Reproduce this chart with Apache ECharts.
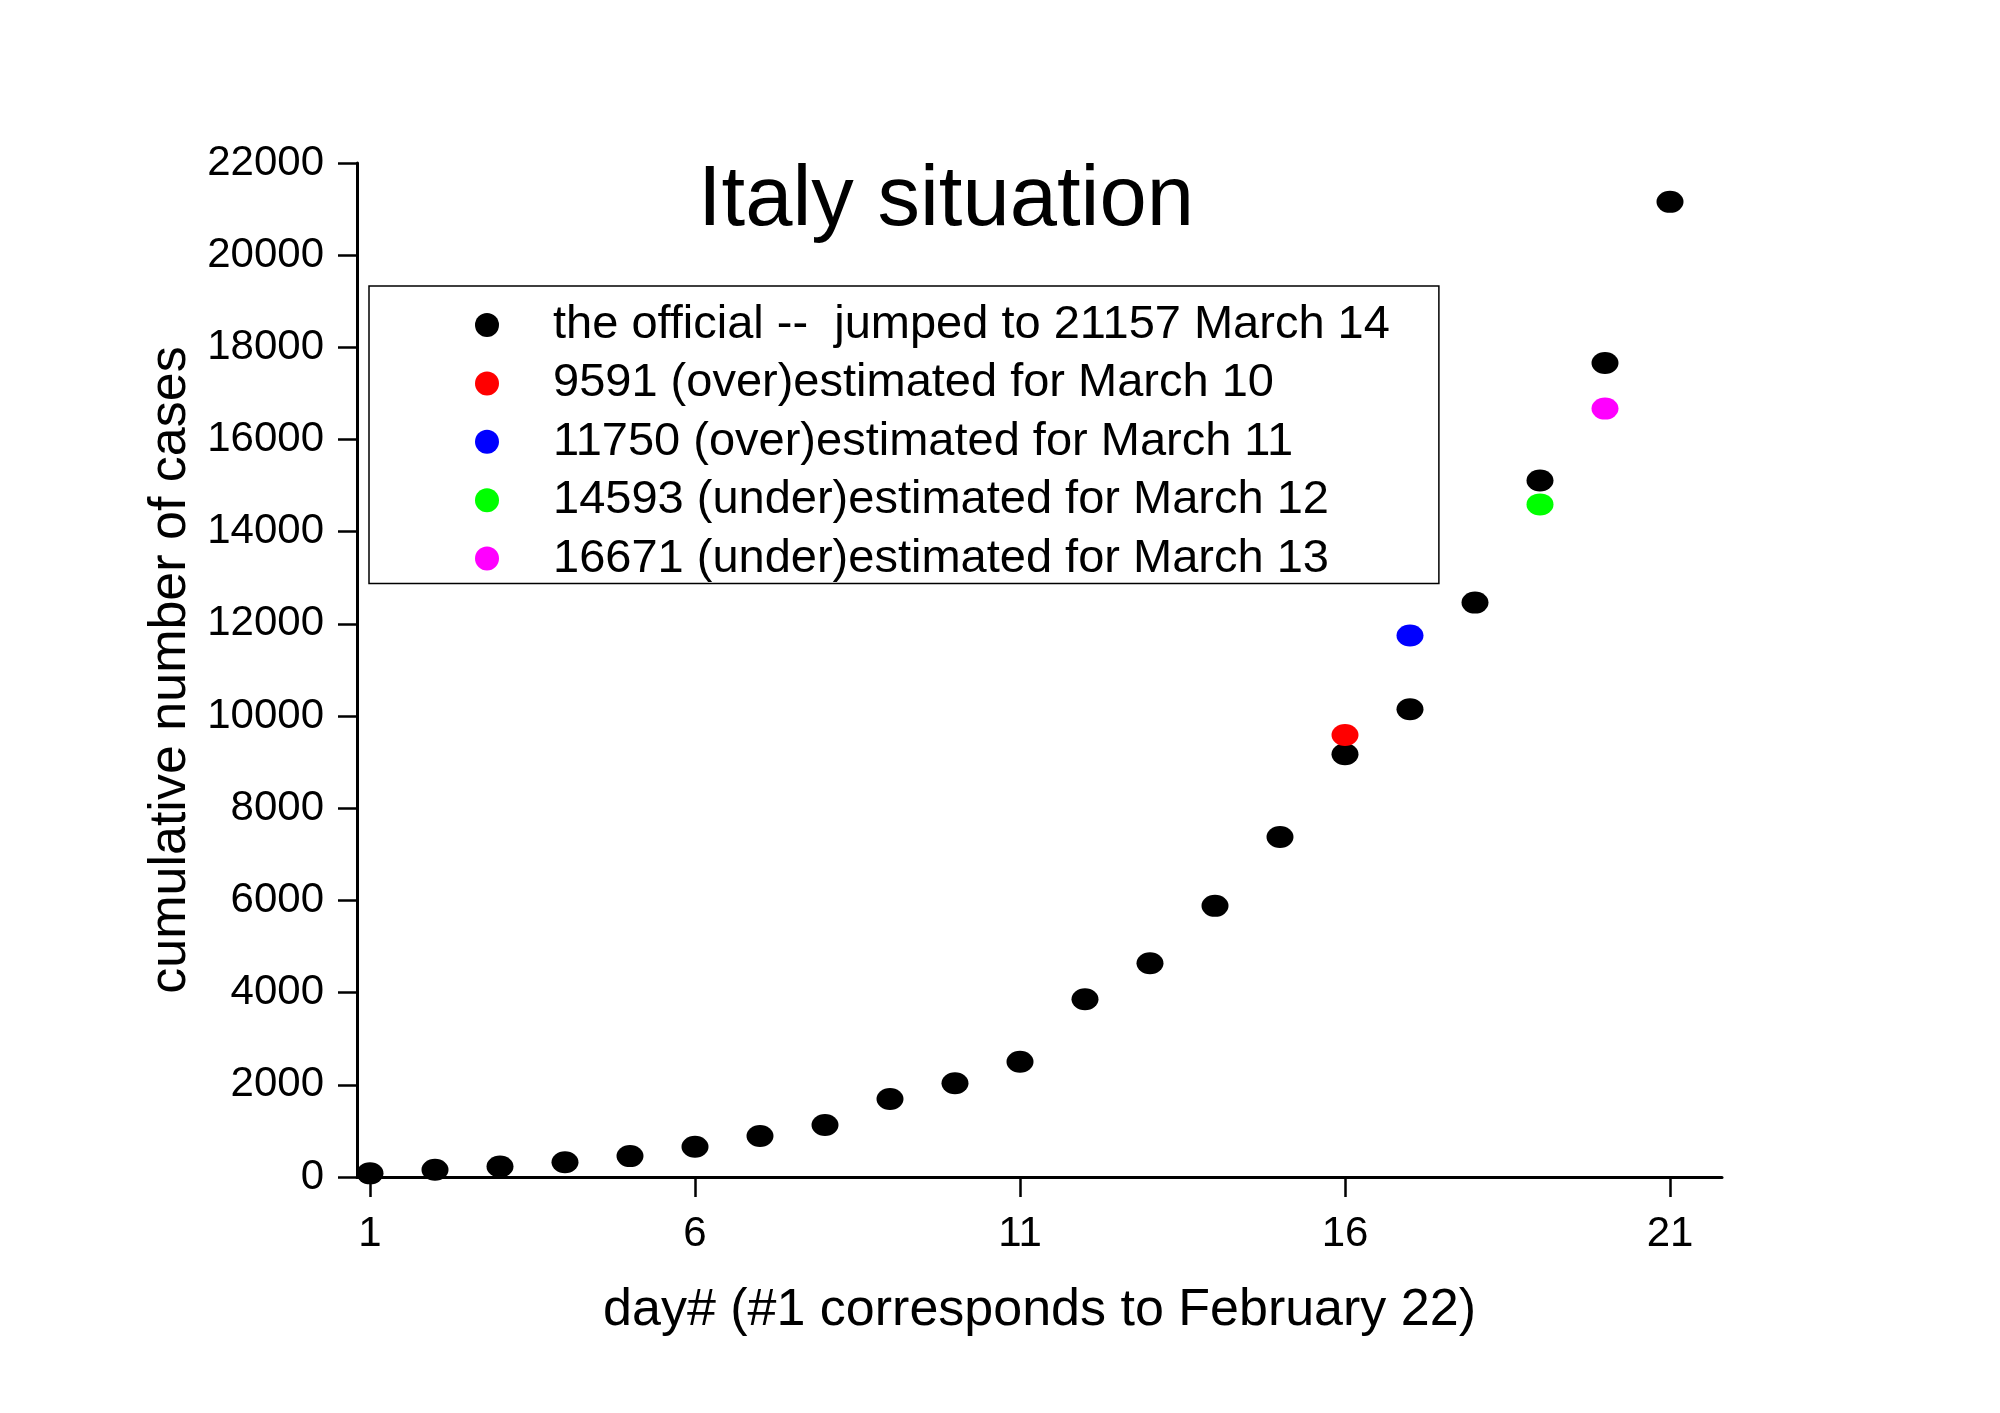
<!DOCTYPE html>
<html>
<head>
<meta charset="utf-8">
<script src="https://cdn.jsdelivr.net/npm/echarts@6/dist/echarts.min.js"></script>
<style>
html,body{margin:0;padding:0;background:#fff;}
#chart{width:2000px;height:1413px;}
</style>
</head>
<body>
<div id="chart"></div>
<script>
// ---- data ----
var days = [1,2,3,4,5,6,7,8,9,10,11,12,13,14,15,16,17,18,19,20,21];
var officialCases = [79,157,229,322,453,655,888,1128,1694,2036,2502,3858,4636,5883,7375,9172,10149,12462,15113,17660,21157];
var estMarch10 = [[16, 9591]];
var estMarch11 = [[17, 11750]];
var estMarch12 = [[19, 14593]];
var estMarch13 = [[20, 16671]];
var seriesNames = [
  'the official --  jumped to 21157 March 14',
  '9591 (over)estimated for March 10',
  '11750 (over)estimated for March 11',
  '14593 (under)estimated for March 12',
  '16671 (under)estimated for March 13'
];
var xTickValues = [1,6,11,16,21];
var titleText = 'Italy situation';
var xAxisName = 'day# (#1 corresponds to February 22)';
var yAxisName = 'cumulative number of cases';

var FONT = "'Liberation Sans', Arial, Helvetica, sans-serif";
var chart = echarts.init(document.getElementById('chart'), null, {renderer:'canvas'});
var officialData = days.map(function(d,i){ return [d, officialCases[i]]; });
var mk = [27, 22];

chart.setOption({
  backgroundColor: '#ffffff',
  animation: false,
  textStyle: {fontFamily: FONT, color: '#000'},
  graphic: [{
    type: 'text', x: 946, y: 202,
    style: {text: titleText, font: '85px ' + FONT, fill: '#000', align: 'center', verticalAlign: 'middle'}
  }],
  grid: {left: 357, right: 278, top: 163, bottom: 236, containLabel: false},
  legend: {
    orient: 'vertical',
    left: 369, top: 286,
    padding: [15, 49, 1, 106],
    itemGap: 10.4,
    itemWidth: 24, itemHeight: 24,
    icon: 'circle',
    borderColor: '#000', borderWidth: 1.5,
    textStyle: {fontFamily: FONT, fontSize: 47, color: '#000', lineHeight: 48, padding: [0, 0, 0, 49]},
    data: seriesNames
  },
  xAxis: {
    type: 'value', min: 0.8, max: 21.8,
    name: xAxisName, nameLocation: 'middle', nameGap: 108,
    nameTextStyle: {fontFamily: FONT, fontSize: 52, color: '#000'},
    axisLine: {show: true, onZero: false, lineStyle: {color: '#000', width: 3}},
    axisTick: {show: true, inside: false, length: 20, customValues: xTickValues, lineStyle: {color: '#000', width: 2.5}},
    axisLabel: {customValues: xTickValues, margin: 36, fontFamily: FONT, fontSize: 42, color: '#000'},
    splitLine: {show: false}
  },
  yAxis: {
    type: 'value', min: 0, max: 22000, interval: 2000,
    name: yAxisName, nameLocation: 'middle', nameGap: 150, nameRotate: 90,
    nameTextStyle: {fontFamily: FONT, fontSize: 52, color: '#000'},
    axisLine: {show: true, onZero: false, lineStyle: {color: '#000', width: 3}},
    axisTick: {show: true, inside: false, length: 19, lineStyle: {color: '#000', width: 2.5}},
    axisLabel: {margin: 33, fontFamily: FONT, fontSize: 42, color: '#000', formatter: function(v){ return String(v); }},
    splitLine: {show: false}
  },
  series: [
    {name: seriesNames[0], type: 'scatter', symbol: 'circle', symbolSize: mk, data: officialData, itemStyle: {color: '#000000', opacity: 1}, clip: true},
    {name: seriesNames[1], type: 'scatter', symbol: 'circle', symbolSize: mk, data: estMarch10, itemStyle: {color: '#ff0000', opacity: 1}, clip: true},
    {name: seriesNames[2], type: 'scatter', symbol: 'circle', symbolSize: mk, data: estMarch11, itemStyle: {color: '#0000ff', opacity: 1}, clip: true},
    {name: seriesNames[3], type: 'scatter', symbol: 'circle', symbolSize: mk, data: estMarch12, itemStyle: {color: '#00ff00', opacity: 1}, clip: true},
    {name: seriesNames[4], type: 'scatter', symbol: 'circle', symbolSize: mk, data: estMarch13, itemStyle: {color: '#ff00ff', opacity: 1}, clip: true}
  ]
});
</script>
</body>
</html>
